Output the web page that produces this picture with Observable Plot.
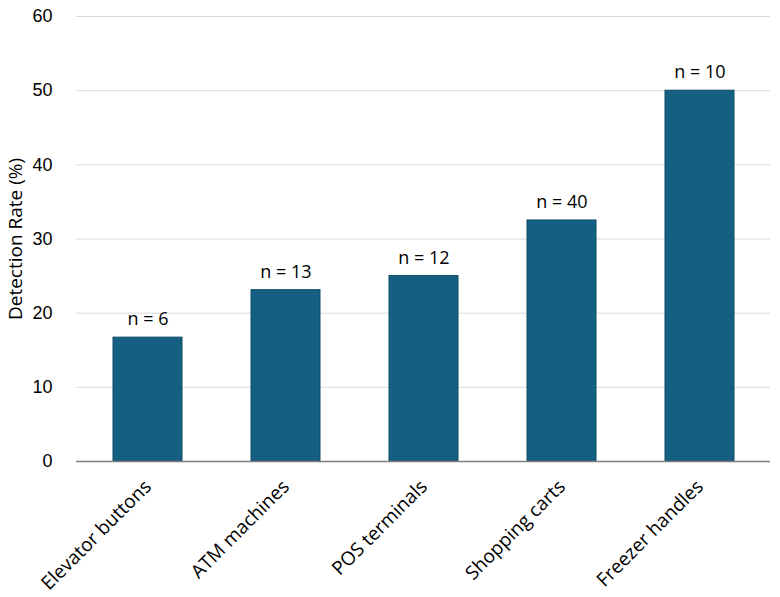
<!DOCTYPE html>
<html>
<head>
<meta charset="utf-8">
<script src="https://cdn.jsdelivr.net/npm/d3@7"></script>
<script src="https://cdn.jsdelivr.net/npm/@observablehq/plot@0.6"></script>
<style>
  body { margin: 0; background: #fff; }
  #chart svg { display: block; }
</style>
</head>
<body>
<div id="chart"></div>
<script>
const categories = ["Elevator buttons", "ATM machines", "POS terminals", "Shopping carts", "Freezer handles"];
const rates = [16.7, 23.1, 25.0, 32.5, 50.0];
const sampleSizes = [6, 13, 12, 40, 10];
const yTicks = [0, 10, 20, 30, 40, 50, 60];

const data = categories.map((c, i) => ({category: c, rate: rates[i], n: sampleSizes[i]}));

const chart = Plot.plot({
  width: 780,
  height: 597,
  marginLeft: 76,
  marginRight: 10,
  marginTop: 16,
  marginBottom: 136,
  style: {fontFamily: "'Liberation Sans', Arial, sans-serif", fontSize: "18px", color: "#000", background: "#fff"},
  x: {domain: categories, paddingInner: 0.5, paddingOuter: 0.25, align: 0.5},
  y: {domain: [0, 60], ticks: yTicks},
  marks: [
    Plot.gridY(yTicks.filter(d => d > 0), {stroke: "#d9d9d9", strokeOpacity: 1, strokeWidth: 1}),
    Plot.barY(data, {x: "category", y: "rate", fill: "#156082", stroke: "#0f4a66", strokeWidth: 1}),
    Plot.ruleY([0], {stroke: "#7f7f7f", strokeWidth: 1.5}),
    Plot.text(data, {x: "category", y: "rate", text: d => `n = ${d.n}`, dy: -18, fontSize: 18, fontFamily: "'Open Sans', sans-serif", fill: "#000"}),
    Plot.axisY({ticks: yTicks, tickSize: 0, tickPadding: 24, fontSize: 18, label: null}),
    Plot.text(["Detection Rate (%)"], {frameAnchor: "left", textAnchor: "middle", rotate: -90, dx: -61, fontSize: 19, fontFamily: "'Open Sans', sans-serif", fill: "#000"}),
    Plot.axisX({tickSize: 0, tickRotate: -45, tickPadding: 22, fontSize: 19, fontFamily: "'Open Sans', sans-serif", label: null})
  ]
});
document.getElementById("chart").appendChild(chart);
</script>
</body>
</html>
